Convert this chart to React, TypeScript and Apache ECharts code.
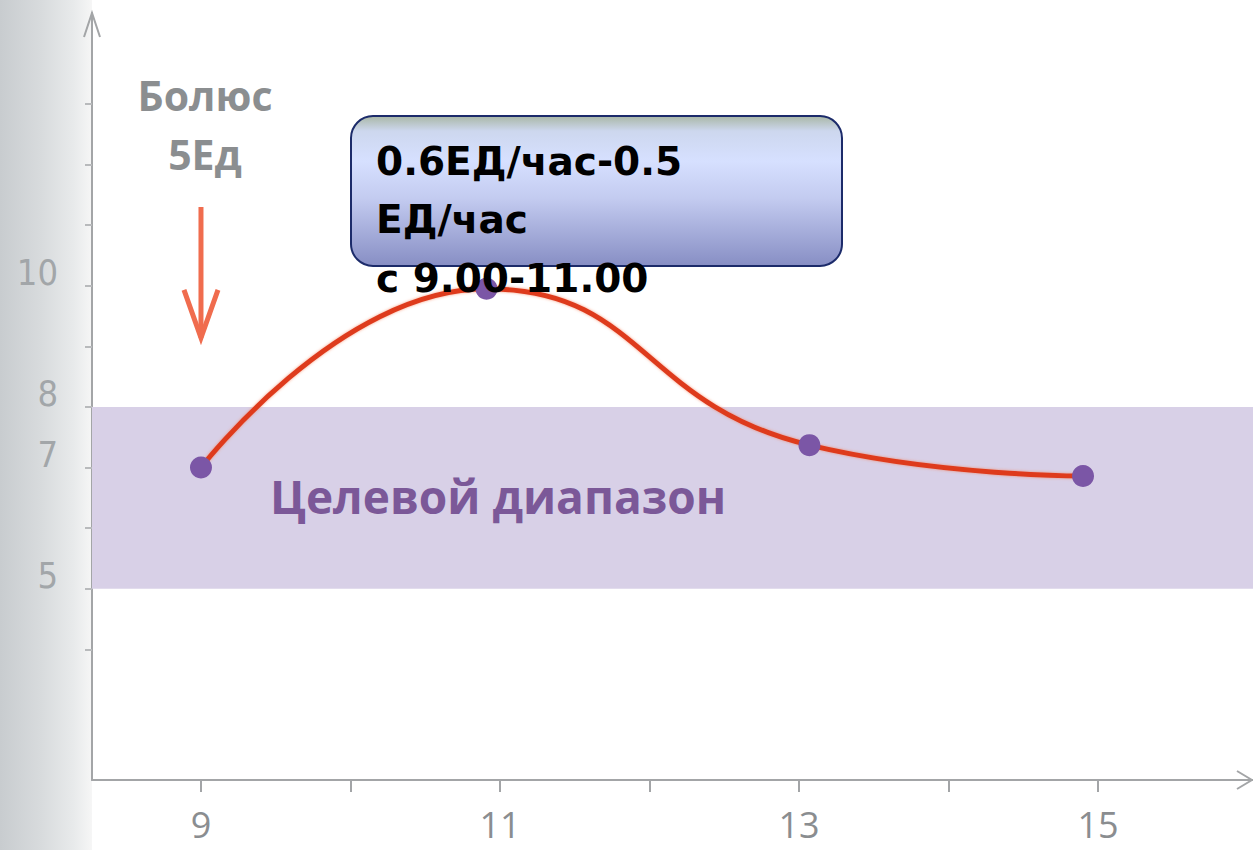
import { useEffect, useRef } from "react";
import * as echarts from "echarts";

// Glucose readings (mmol/L) by hour of day
const hours = [9.0, 10.91, 13.07, 14.9];
const glucose = [7.0, 9.95, 7.37, 6.86];

// Target range band
const targetLow = 5;
const targetHigh = 8;

// Axis ticks and labels
const xTickValues = [9, 10, 11, 12, 13, 14, 15];
const xLabelValues = [9, 11, 13, 15];
const yTickValues = [4, 5, 6, 7, 8, 9, 10, 11, 12, 13];
const yLabelValues = [5, 7, 8, 10];

// Bolus arrow (hour, from level, to level)
const bolusHour = 9;
const bolusFrom = 11.3;
const bolusTo = 9.14;

const X_MIN = 8.271;
const X_MAX = 16.037;
const Y_MIN = 1.845;
const Y_MAX = 14.5;

export default function App() {
  const ref = useRef<HTMLDivElement>(null);

  useEffect(() => {
    if (!ref.current) return;
    const chart = echarts.init(ref.current, null, { renderer: "svg" });

    const axisGray = "#a3a5a7";

    chart.setOption({
      animation: false,
      backgroundColor: "#ffffff",
      grid: { left: 92, right: 0, top: 13, bottom: 70 },
      xAxis: {
        type: "value",
        min: X_MIN,
        max: X_MAX,
        splitLine: { show: false },
        axisLine: { show: true, onZero: false, lineStyle: { color: axisGray, width: 2 } },
        axisTick: {
          show: true,
          customValues: xTickValues,
          length: 12,
          lineStyle: { color: axisGray, width: 2 },
        },
        axisLabel: {
          customValues: xLabelValues,
          fontSize: 36,
          lineHeight: 36,
          fontFamily: "Open Sans",
          color: "#8a8d90",
          margin: 26,
        },
      },
      yAxis: {
        type: "value",
        min: Y_MIN,
        max: Y_MAX,
        splitLine: { show: false },
        axisLine: { show: true, onZero: false, lineStyle: { color: axisGray, width: 2 } },
        axisTick: {
          show: true,
          customValues: yTickValues,
          length: 7,
          lineStyle: { color: "#b8babc", width: 2 },
        },
        axisLabel: {
          customValues: yLabelValues,
          fontSize: 36,
          fontFamily: "'Liberation Sans Narrow', 'DejaVu Sans Condensed', sans-serif",
          color: "#a2a6a9",
          margin: 34,
          verticalAlign: "bottom",
          lineHeight: 26,
        },
      },
      series: [
        {
          type: "line",
          data: hours.map((h, i) => [h, glucose[i]]),
          smooth: 0.5,
          symbol: "circle",
          symbolSize: 22,
          itemStyle: { color: "#7b56a6" },
          lineStyle: {
            color: "#de3a1e",
            width: 5,
            shadowColor: "rgba(245,120,80,0.7)",
            shadowBlur: 3,
          },
          z: 3,
          markArea: {
            silent: true,
            itemStyle: { color: "#d8d0e7" },
            data: [[{ yAxis: targetLow }, { yAxis: targetHigh }]],
          },
        },
      ],
    });

    const px = (x: number, y: number) =>
      chart.convertToPixel({ gridIndex: 0 }, [x, y]) as number[];

    const [axX, axTop] = px(X_MIN, Y_MAX);
    const [axRight, axY] = px(X_MAX, Y_MIN);
    const [arX, arY0] = px(bolusHour, bolusFrom);
    const [, arY1] = px(bolusHour, bolusTo);

    chart.setOption({
      graphic: [
        // soft grey shading along the left edge
        {
          type: "rect",
          z: -10,
          silent: true,
          shape: { x: 0, y: 0, width: 92, height: 850 },
          style: {
            fill: new echarts.graphic.LinearGradient(0, 0, 1, 0, [
              { offset: 0, color: "rgba(200,204,207,1)" },
              { offset: 0.45, color: "rgba(216,219,221,1)" },
              { offset: 0.8, color: "rgba(232,234,235,1)" },
              { offset: 1, color: "rgba(246,246,246,1)" },
            ]),
          },
        },
        // open arrowheads on both axes
        {
          type: "polyline",
          z: 5,
          shape: { points: [[axX - 8, axTop + 24], [axX, axTop], [axX + 8, axTop + 24]] },
          style: { stroke: axisGray, lineWidth: 2, fill: "none" },
        },
        {
          type: "polyline",
          z: 5,
          shape: { points: [[axRight - 16, axY - 9], [axRight - 1, axY], [axRight - 16, axY + 9]] },
          style: { stroke: axisGray, lineWidth: 2, fill: "none" },
        },
        // bolus label and arrow
        {
          type: "text",
          z: 5,
          x: arX + 4,
          y: 65,
          style: {
            text: "Болюс\n5Ед",
            font: "bold 41px 'Open Sans'",
            lineHeight: 59,
            fill: "#8b8e90",
            align: "center",
            verticalAlign: "top",
          },
        },
        {
          type: "line",
          z: 5,
          shape: { x1: arX, y1: arY0, x2: arX, y2: arY1 },
          style: { stroke: "#f06c4e", lineWidth: 5 },
        },
        {
          type: "polyline",
          z: 5,
          shape: { points: [[arX - 17, arY1 - 48], [arX, arY1], [arX + 17, arY1 - 48]] },
          style: { stroke: "#f06c4e", lineWidth: 5, fill: "none", lineJoin: "miter" },
        },
        // target range caption
        {
          type: "text",
          z: 5,
          x: 270,
          y: 496,
          style: {
            text: "Целевой диапазон",
            font: "bold 46px 'Open Sans'",
            fill: "#7b5898",
            align: "left",
            verticalAlign: "middle",
          },
        },
        // infusion rate callout
        {
          type: "rect",
          z: 50,
          shape: { x: 351, y: 116, width: 491, height: 150, r: 22 },
          style: {
            fill: new echarts.graphic.LinearGradient(0, 0, 0, 1, [
              { offset: 0, color: "#a9b7a6" },
              { offset: 0.1, color: "#cdd7ee" },
              { offset: 0.3, color: "#d6e0ff" },
              { offset: 0.55, color: "#c3cbf0" },
              { offset: 1, color: "#878ec4" },
            ]),
            stroke: "#1c2b6a",
            lineWidth: 2,
          },
        },
        {
          type: "text",
          z: 60,
          x: 376,
          y: 132,
          style: {
            text: "0.6ЕД/час-0.5\nЕД/час\nс 9.00-11.00",
            font: "bold 39px 'DejaVu Sans'",
            lineHeight: 58.5,
            fill: "#000000",
            align: "left",
            verticalAlign: "top",
          },
        },
      ],
    });

    return () => chart.dispose();
  }, []);

  return (
    <div
      ref={ref}
      style={{ position: "absolute", left: 0, top: 0, width: 1253, height: 850, background: "#fff" }}
    />
  );
}
